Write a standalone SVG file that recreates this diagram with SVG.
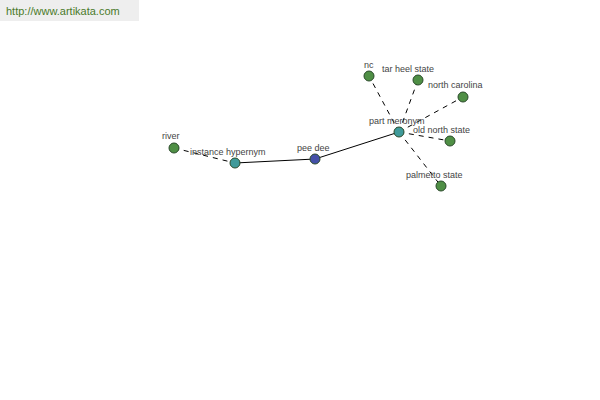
<svg xmlns="http://www.w3.org/2000/svg" width="600" height="400" viewBox="0 0 600 400">
<style>
.lbl{font-family:"Liberation Sans",Arial,sans-serif;font-size:9px;fill:#444}
.n{stroke:#2a4a2a;stroke-width:1}
.g{fill:#4f8f45}
.t{fill:#3f9a9a}
.b{fill:#4450a8}
.e{stroke:#000;stroke-width:1;fill:none}
.d{stroke-dasharray:5,5}
</style>
<rect x="0" y="0" width="139" height="21" fill="#eeeeee"/>
<text x="6" y="15" style="font-family:'Liberation Sans',Arial,sans-serif;font-size:11px;fill:#4a7a2a">http://www.artikata.com</text>
<g id="connectors">
<line class="e d" x1="174" y1="148" x2="235" y2="163"/>
<line class="e" x1="235" y1="163" x2="315" y2="159"/>
<line class="e" x1="315" y1="159" x2="399" y2="132"/>
<line class="e d" x1="399" y1="132" x2="369" y2="76"/>
<line class="e d" x1="399" y1="132" x2="418" y2="80"/>
<line class="e d" x1="399" y1="132" x2="463" y2="97"/>
<line class="e d" x1="399" y1="132" x2="450" y2="141"/>
<line class="e d" x1="399" y1="132" x2="441" y2="186"/>
</g>
<g id="river"><circle class="n g" cx="174" cy="148" r="5"/><text class="lbl" x="162" y="139">river</text></g>
<g id="instance-hypernym"><circle class="n t" cx="235" cy="163" r="5"/><text class="lbl" x="190" y="155">instance hypernym</text></g>
<g id="pee-dee"><circle class="n b" cx="315" cy="159" r="5"/><text class="lbl" x="297" y="151">pee dee</text></g>
<g id="part-meronym"><circle class="n t" cx="399" cy="132" r="5"/><text class="lbl" x="369" y="124">part meronym</text></g>
<g id="nc"><circle class="n g" cx="369" cy="76" r="5"/><text class="lbl" x="364" y="68">nc</text></g>
<g id="tar-heel-state"><circle class="n g" cx="418" cy="80" r="5"/><text class="lbl" x="382" y="72">tar heel state</text></g>
<g id="north-carolina"><circle class="n g" cx="463" cy="97" r="5"/><text class="lbl" x="428" y="88">north carolina</text></g>
<g id="old-north-state"><circle class="n g" cx="450" cy="141" r="5"/><text class="lbl" x="413" y="133">old north state</text></g>
<g id="palmetto-state"><circle class="n g" cx="441" cy="186" r="5"/><text class="lbl" x="406" y="178">palmetto state</text></g>
</svg>
